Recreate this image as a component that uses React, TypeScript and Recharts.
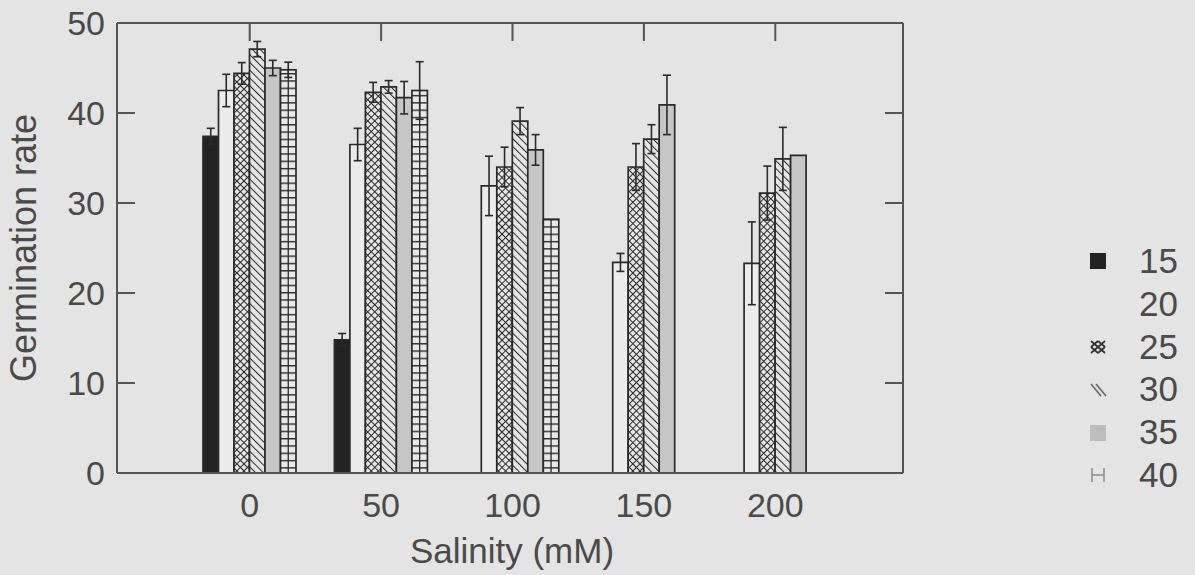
import React from "react";
import { BarChart, Bar, XAxis, YAxis, ErrorBar, Legend, Label } from "recharts";

const categories = ["0", "50", "100", "150", "200"];

const t15 = [37.4, 14.8, null, null, null];
const e15 = [0.9, 0.7, null, null, null];
const t20 = [42.5, 36.5, 31.9, 23.4, 23.3];
const e20 = [1.8, 1.8, 3.3, 1.0, 4.6];
const t25 = [44.4, 42.3, 34.0, 34.0, 31.1];
const e25 = [1.2, 1.1, 2.2, 2.6, 3.0];
const t30 = [47.1, 42.9, 39.1, 37.1, 34.9];
const e30 = [0.85, 0.7, 1.5, 1.6, 3.5];
const t35 = [45.0, 41.7, 35.9, 40.9, 35.3];
const e35 = [0.85, 1.8, 1.7, 3.3, null];
const t40 = [44.8, 42.5, 28.2, null, null];
const e40 = [0.85, 3.2, null, null, null];

const yTicks = [0, 10, 20, 30, 40, 50];

const data = categories.map((cat, i) => ({
  cat,
  t15: t15[i], e15: e15[i],
  t20: t20[i], e20: e20[i],
  t25: t25[i], e25: e25[i],
  t30: t30[i], e30: e30[i],
  t35: t35[i], e35: e35[i],
  t40: t40[i], e40: e40[i],
}));

const BG = "#e4e4e4";
const INK = "#4a4a4a";
const AXIS = "#555";
const EDGE = "#2a2a2a";
const FONT = "'Liberation Sans', Arial, sans-serif";

// bar with horizontal rungs and a centre line (the "40" series)
const LadderBar = (props: any) => {
  const { x, y, width, height } = props;
  if (!height || height <= 0) return null;
  return (
    <g>
      <rect x={x} y={y} width={width} height={height} fill="url(#rungs)" stroke={EDGE} strokeWidth={1.7} />
      <line x1={x + width / 2} x2={x + width / 2} y1={y} y2={y + height} stroke={EDGE} strokeWidth={1.3} />
    </g>
  );
};

const series = [
  { key: "t15", err: "e15", name: "15", fill: "#232323" },
  { key: "t20", err: "e20", name: "20", fill: "#ececec" },
  { key: "t25", err: "e25", name: "25", fill: "url(#cross)" },
  { key: "t30", err: "e30", name: "30", fill: "url(#diag)" },
  { key: "t35", err: "e35", name: "35", fill: "#c6c6c6" },
  { key: "t40", err: "e40", name: "40", fill: "url(#rungs)" },
];

const Swatch = ({ name }: { name: string }) => {
  let inner: React.ReactNode = null;
  if (name === "15") inner = <rect x={1} y={1} width={16} height={16} fill="#232323" />;
  if (name === "25")
    inner = (
      <g stroke="#333" strokeWidth={1.8} fill="none">
        <line x1={2} y1={3} x2={16} y2={15} />
        <line x1={16} y1={3} x2={2} y2={15} />
        <line x1={2} y1={9} x2={9} y2={3} />
        <line x1={9} y1={3} x2={16} y2={9} />
        <line x1={2} y1={9} x2={9} y2={15} />
        <line x1={9} y1={15} x2={16} y2={9} />
      </g>
    );
  if (name === "30")
    inner = (
      <g stroke="#666" strokeWidth={1.6}>
        <line x1={2} y1={3} x2={12} y2={15} />
        <line x1={7} y1={3} x2={17} y2={15} />
      </g>
    );
  if (name === "35") inner = <rect x={1} y={1} width={16} height={16} fill="#bdbdbd" />;
  if (name === "40")
    inner = (
      <g stroke="#8a8a8a" strokeWidth={1.5}>
        <line x1={3} y1={2} x2={3} y2={16} />
        <line x1={15} y1={2} x2={15} y2={16} />
        <line x1={3} y1={9} x2={15} y2={9} />
      </g>
    );
  return (
    <svg width={18} height={18} style={{ display: "block" }}>
      {inner}
    </svg>
  );
};

const LegendBox = () => (
  <div style={{ fontFamily: FONT, color: INK }}>
    {series.map((s) => (
      <div key={s.name} style={{ display: "flex", alignItems: "center", height: 42.8 }}>
        <Swatch name={s.name} />
        <span style={{ marginLeft: 32, fontSize: 35, lineHeight: "42.8px" }}>{s.name}</span>
      </div>
    ))}
  </div>
);

const tickFont = { fontSize: 34, fill: INK, fontFamily: FONT };
const noLabel = () => <g />;

export default function App() {
  return (
    <div style={{ position: "absolute", left: 0, top: 0, width: 1195, height: 575, background: BG }}>
      <BarChart
        width={1195}
        height={575}
        data={data}
        margin={{ top: 23, right: 292, bottom: 0, left: 0 }}
        barSize={15.5}
        barGap={0}
      >
        <defs>
          <pattern id="cross" width={5} height={5} patternUnits="userSpaceOnUse" patternTransform="rotate(45)">
            <rect width={5} height={5} fill="#e6e6e6" />
            <line x1={0} y1={0} x2={0} y2={5} stroke={EDGE} strokeWidth={2} />
            <line x1={0} y1={0} x2={5} y2={0} stroke={EDGE} strokeWidth={2} />
          </pattern>
          <pattern id="diag" width={5.5} height={5.5} patternUnits="userSpaceOnUse" patternTransform="rotate(-45)">
            <rect width={5.5} height={5.5} fill="#e6e6e6" />
            <line x1={0} y1={0} x2={0} y2={5.5} stroke={EDGE} strokeWidth={2} />
          </pattern>
          <pattern id="rungs" width={10} height={7.3} patternUnits="userSpaceOnUse">
            <rect width={10} height={7.3} fill="#e8e8e8" />
            <line x1={0} y1={0.7} x2={10} y2={0.7} stroke={EDGE} strokeWidth={1.4} />
          </pattern>
        </defs>

        <XAxis
          dataKey="cat"
          height={102}
          padding={{ left: 67, right: 62 }}
          axisLine={{ stroke: AXIS, strokeWidth: 2 }}
          tickLine={false}
          tickSize={0}
          tickMargin={20}
          tick={tickFont}
        >
          <Label
            value="Salinity (mM)"
            position="insideBottom"
            offset={12}
            dx={2}
            style={{ fontSize: 35, fill: INK, fontFamily: FONT }}
          />
        </XAxis>
        <XAxis
          xAxisId="top"
          dataKey="cat"
          orientation="top"
          mirror
          padding={{ left: 67, right: 62 }}
          axisLine={{ stroke: AXIS, strokeWidth: 2 }}
          tickLine={{ stroke: AXIS, strokeWidth: 2 }}
          tickSize={18}
          tick={noLabel}
        />
        <YAxis
          width={117}
          domain={[0, 50]}
          ticks={yTicks}
          interval={0}
          axisLine={{ stroke: AXIS, strokeWidth: 2 }}
          tickLine={false}
          tickSize={0}
          tickMargin={12}
          tick={tickFont}
        >
          <Label
            content={({ viewBox }: any) => {
              const cx = 36;
              const cy = viewBox.y + viewBox.height / 2;
              return (
                <text
                  x={cx}
                  y={cy}
                  transform={`rotate(-90 ${cx} ${cy})`}
                  textAnchor="middle"
                  fontSize={36}
                  fill={INK}
                  fontFamily={FONT}
                >
                  Germination rate
                </text>
              );
            }}
          />
        </YAxis>
        <YAxis
          yAxisId="leftTicks"
          orientation="left"
          mirror
          type="number"
          domain={[0, 50]}
          allowDataOverflow
          ticks={yTicks}
          interval={0}
          axisLine={false}
          tickLine={{ stroke: AXIS, strokeWidth: 2 }}
          tickSize={18}
          tick={noLabel}
        />
        <YAxis
          yAxisId="right"
          orientation="right"
          mirror
          type="number"
          domain={[0, 50]}
          allowDataOverflow
          ticks={yTicks}
          interval={0}
          axisLine={{ stroke: AXIS, strokeWidth: 2 }}
          tickLine={{ stroke: AXIS, strokeWidth: 2 }}
          tickSize={18}
          tick={noLabel}
        />

        {series.map((s) => (
          <Bar
            key={s.key}
            dataKey={s.key}
            name={s.name}
            fill={s.fill}
            stroke={EDGE}
            strokeWidth={1.7}
            shape={s.key === "t40" ? LadderBar : undefined}
            isAnimationActive={false}
          >
            <ErrorBar
              dataKey={(d: any) => (d[s.err] == null ? 0 : d[s.err])}
              width={4}
              stroke={EDGE}
              strokeWidth={1.6}
              direction="y"
              isAnimationActive={false}
            />
          </Bar>
        ))}

        <Legend
          layout="vertical"
          align="center"
          verticalAlign="middle"
          wrapperStyle={{ left: 1089, top: 240, width: 100 }}
          content={() => <LegendBox />}
        />
      </BarChart>
    </div>
  );
}
